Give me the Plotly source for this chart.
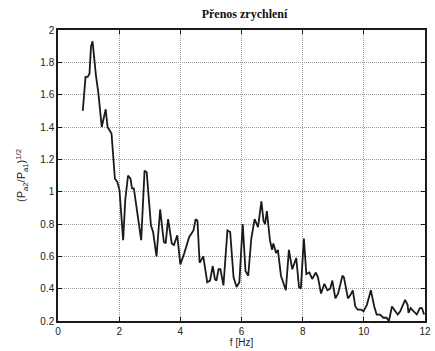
import plotly.graph_objects as go

# Frequency axis [Hz] and acceleration transfer ratio (P_a2/P_a1)^(1/2)
freq = [
    0.81, 0.90, 0.97, 1.03, 1.08, 1.13, 1.24, 1.32, 1.43, 1.56, 1.62, 1.75,
    1.86, 1.94, 2.01, 2.13, 2.20, 2.29, 2.37, 2.42, 2.48, 2.61, 2.72, 2.83,
    2.90, 3.04, 3.11, 3.22, 3.34, 3.46, 3.52, 3.60, 3.72, 3.79, 3.90, 4.00,
    4.13, 4.29, 4.43, 4.50, 4.56, 4.63, 4.75, 4.88, 4.97, 5.06, 5.13, 5.18,
    5.25, 5.31, 5.41, 5.54, 5.63, 5.74, 5.84, 5.93, 6.04, 6.13, 6.22, 6.32,
    6.43, 6.54, 6.65, 6.72, 6.77, 6.83, 6.93, 7.00, 7.04, 7.13, 7.19, 7.29,
    7.45, 7.55, 7.66, 7.79, 7.88, 7.94, 8.04, 8.12, 8.22, 8.31, 8.43, 8.50,
    8.60, 8.71, 8.81, 8.90, 8.97, 9.07, 9.16, 9.30, 9.35, 9.48, 9.56, 9.64,
    9.72, 9.80, 9.91, 9.99, 10.10, 10.23, 10.34, 10.42, 10.53, 10.64, 10.74,
    10.82, 10.92, 11.03, 11.11, 11.19, 11.28, 11.35, 11.43, 11.46, 11.53,
    11.64, 11.73, 11.83, 11.90, 11.97,
]
ratio = [
    1.50, 1.71, 1.71, 1.73, 1.90, 1.93, 1.72, 1.61, 1.40, 1.51, 1.40, 1.36,
    1.08, 1.06, 1.01, 0.70, 0.95, 1.10, 1.08, 1.02, 1.02, 0.83, 0.70, 1.13,
    1.12, 0.79, 0.75, 0.60, 0.89, 0.69, 0.68, 0.83, 0.68, 0.67, 0.73, 0.55,
    0.62, 0.72, 0.76, 0.83, 0.82, 0.56, 0.60, 0.44, 0.45, 0.54, 0.46, 0.45,
    0.52, 0.52, 0.42, 0.76, 0.75, 0.47, 0.41, 0.44, 0.80, 0.51, 0.48, 0.71,
    0.83, 0.78, 0.94, 0.82, 0.80, 0.88, 0.70, 0.64, 0.68, 0.62, 0.64, 0.48,
    0.39, 0.64, 0.52, 0.59, 0.41, 0.40, 0.71, 0.49, 0.50, 0.46, 0.50, 0.47,
    0.37, 0.43, 0.39, 0.40, 0.45, 0.34, 0.37, 0.48, 0.47, 0.34, 0.36, 0.39,
    0.29, 0.27, 0.27, 0.26, 0.30, 0.39, 0.29, 0.24, 0.24, 0.22, 0.22,
    0.20, 0.29, 0.26, 0.24, 0.26, 0.30, 0.33, 0.30, 0.25, 0.28,
    0.26, 0.24, 0.28, 0.28, 0.24,
]

x_ticks = [0, 2, 4, 6, 8, 10, 12]
y_ticks = [0.2, 0.4, 0.6, 0.8, 1.0, 1.2, 1.4, 1.6, 1.8, 2.0]
y_tick_text = ["0.2", "0.4", "0.6", "0.8", "1", "1.2", "1.4", "1.6", "1.8", "2"]

fig = go.Figure()
fig.add_trace(go.Scatter(
    x=freq, y=ratio, mode="lines",
    line=dict(color="#1a1a1a", width=1.8),
    showlegend=False,
))

axis_common = dict(
    showline=True, linecolor="#1a1a1a", linewidth=1.5, mirror="ticks",
    ticks="inside", ticklen=4, tickcolor="#1a1a1a",
    showgrid=True, gridcolor="#9a9a9a", griddash="1px,1px", gridwidth=1,
    zeroline=False,
    tickfont=dict(family="Liberation Sans, Arial", size=10, color="#222"),
)

fig.update_layout(
    width=435, height=351,
    margin=dict(l=58, r=4, t=30, b=28),
    paper_bgcolor="white", plot_bgcolor="white",
    title=dict(
        text="<b>Přenos zrychlení</b>",
        x=(58 + 431) / 2 / 435, xanchor="center",
        y=1 - 14 / 351, yanchor="middle",
        font=dict(family="Liberation Serif, Times New Roman", size=12, color="#111"),
    ),
    xaxis=dict(
        range=[0, 12], tickvals=x_ticks,
        title=dict(text="f [Hz]", standoff=3,
                   font=dict(family="Liberation Sans, Arial", size=10, color="#222")),
        **axis_common,
    ),
    yaxis=dict(
        range=[0.2, 2.0], tickvals=y_ticks, ticktext=y_tick_text,
        title=dict(text="(P<sub>a2</sub>/P<sub>a1</sub>)<sup>1/2</sup>", standoff=12,
                   font=dict(family="Liberation Sans, Arial", size=11, color="#222")),
        **axis_common,
    ),
)

fig.write_html("out.html")
